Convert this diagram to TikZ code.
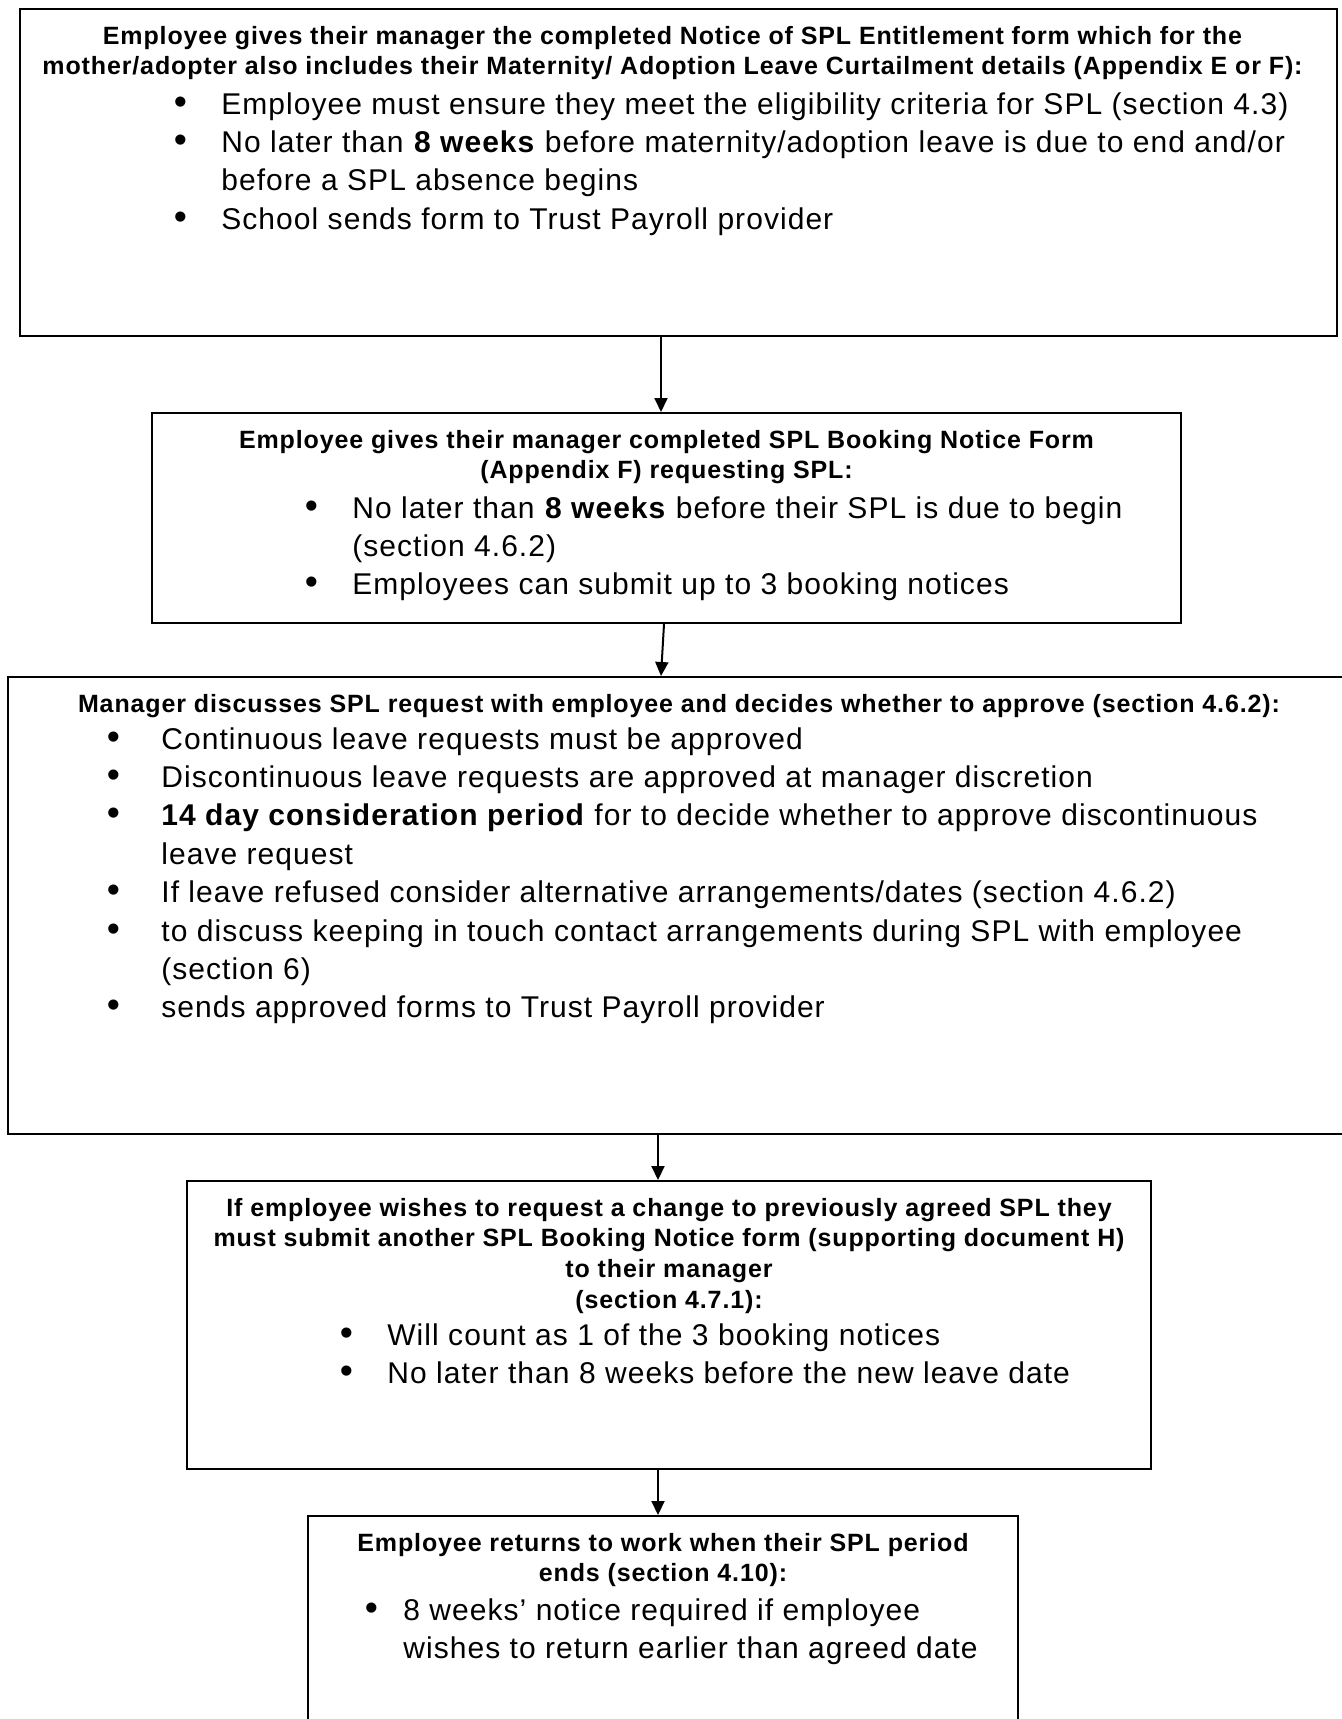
\documentclass[tikz,border=0pt]{standalone}
\usepackage{fontspec}
\setmainfont{Liberation Sans}[LetterSpace=3.5]
\usetikzlibrary{arrows.meta,positioning,calc}

% bullet centred #1 to the left of the text start
\newcommand{\bul}[1]{\llap{\makebox[0pt]{\scalebox{1.25}{\textbullet}}\hspace{#1}}}

\begin{document}
\begin{tikzpicture}[
  x=0.5pt, y=-0.5pt,
  box/.style={rectangle, draw, line width=1pt, inner sep=0pt},
  head/.style={font=\fontsize{12.5}{15.35}\selectfont\bfseries, align=center, inner sep=0pt, anchor=north},
  items/.style={font=\fontsize{15}{19.2}\selectfont, align=left, inner sep=0pt, anchor=north west},
  arrow/.style={-{Triangle[length=7pt,width=6.5pt]}, line width=1pt}
]
\useasboundingbox (0,0) rectangle (1341,1719);

% boxes
\node[box, minimum width=658.5pt, minimum height=163.5pt] (b1) at (678.5,172.5) {};
\node[box, minimum width=514.5pt, minimum height=105pt] (b2) at (666.5,518) {};
\node[box, minimum width=671pt, minimum height=228.5pt] (b3) at (679,905.5) {};
\node[box, minimum width=482pt, minimum height=144pt] (b4) at (669,1325) {};
\node[box, minimum width=355pt, minimum height=112pt] (b5) at (663,1628) {};

% texts
\node[head] (h1) at ($(b1.north)+(-6,17.5)$) {Employee gives their manager the completed Notice of SPL Entitlement form which for the\\mother/adopter also includes their Maternity/ Adoption Leave Curtailment details (Appendix E or F):};
\node[items] (l1) at ($(b1.north west)+(202,84)$) {\bul{20.5pt}Employee must ensure they meet the eligibility criteria for SPL (section 4.3)\\
  \bul{20.5pt}No later than \textbf{8 weeks} before maternity/adoption leave is due to end and/or\\
  before a SPL absence begins\\
  \bul{20.5pt}School sends form to Trust Payroll provider};

\node[head] (h2) at ($(b2.north)+(0,17.5)$) {Employee gives their manager completed SPL Booking Notice Form\\(Appendix F) requesting SPL:};
\node[items] (l2) at ($(b2.north west)+(201,84)$) {\bul{20.5pt}No later than \textbf{8 weeks} before their SPL is due to begin\\
  (section 4.6.2)\\
  \bul{20.5pt}Employees can submit up to 3 booking notices};

\node[head] (h3) at ($(b3.north)+(0,17.5)$) {Manager discusses SPL request with employee and decides whether to approve (section 4.6.2):};
\node[items] (l3) at ($(b3.north west)+(154,51)$) {\bul{24pt}Continuous leave requests must be approved\\
  \bul{24pt}Discontinuous leave requests are approved at manager discretion\\
  \bul{24pt}\textbf{14 day consideration period} for to decide whether to approve discontinuous\\
  leave request\\
  \bul{24pt}If leave refused consider alternative arrangements/dates (section 4.6.2)\\
  \bul{24pt}to discuss keeping in touch contact arrangements during SPL with employee\\
  (section 6)\\
  \bul{24pt}sends approved forms to Trust Payroll provider};

\node[head] (h4) at ($(b4.north)+(0,17.5)$) {If employee wishes to request a change to previously agreed SPL they\\must submit another SPL Booking Notice form (supporting document H)\\to their manager\\(section 4.7.1):};
\node[items] (l4) at ($(b4.north west)+(201,143)$) {\bul{20.5pt}Will count as 1 of the 3 booking notices\\
  \bul{20.5pt}No later than 8 weeks before the new leave date};

\node[head] (h5) at ($(b5.north)+(0,17.5)$) {Employee returns to work when their SPL period\\ends (section 4.10):};
\node[items] (l5) at ($(b5.north west)+(96,83)$) {\bul{16pt}8 weeks’ notice required if employee\\
  wishes to return earlier than agreed date};

% connectors
\coordinate (spineA) at (661,0);
\coordinate (spineB) at (658,0);
\coordinate (spineC) at (664,0);
\draw[arrow] (b1.south -| spineA) -- (b2.north -| spineA);
\draw[arrow] (b2.south -| spineC) -- (b3.north -| spineA);
\draw[arrow] (b3.south -| spineB) -- (b4.north -| spineB);
\draw[arrow] (b4.south -| spineB) -- (b5.north -| spineB);

\end{tikzpicture}
\end{document}
